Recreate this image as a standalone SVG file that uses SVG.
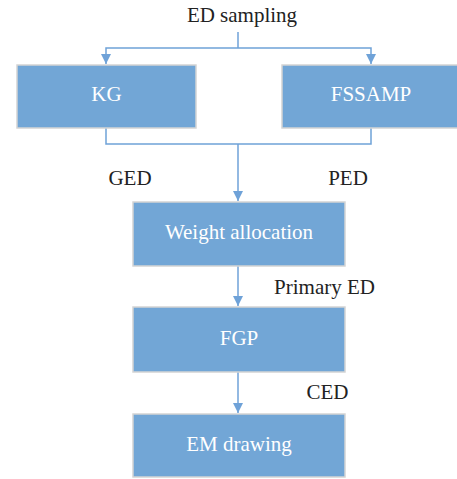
<svg xmlns="http://www.w3.org/2000/svg" width="457" height="479" viewBox="0 0 457 479">
<style>
.box{fill:#72a6d6;stroke:#d4d4d4;stroke-width:1.5}
.t{font-family:"Liberation Serif","Times New Roman",serif;font-size:21px;text-anchor:middle}
.w{fill:#ffffff}
.k{fill:#222222}
.ln{fill:none;stroke:#6fa2d8;stroke-width:1.5}
</style>
<defs>
<marker id="ah" viewBox="0 0 10 10" refX="10" refY="5" markerWidth="10" markerHeight="10" markerUnits="userSpaceOnUse" orient="auto">
<path d="M0,0 L10,5 L0,10 z" fill="#6fa2d8"/>
</marker>
</defs>
<text class="t k" x="242" y="22">ED sampling</text>
<g id="connectors">
<path class="ln" d="M238,32 V48"/>
<path class="ln" d="M238,48 H106 V64" marker-end="url(#ah)"/>
<path class="ln" d="M238,48 H371 V64" marker-end="url(#ah)"/>
<path class="ln" d="M106,128 V144 H371 V128"/>
<path class="ln" d="M238,144 V201" marker-end="url(#ah)"/>
<path class="ln" d="M238,266 V306" marker-end="url(#ah)"/>
<path class="ln" d="M238,372 V413" marker-end="url(#ah)"/>
</g>
<g id="kg"><rect class="box" x="17" y="65" width="179" height="63"/><text class="t w" x="106.5" y="101">KG</text></g>
<g id="fssamp"><rect class="box" x="282" y="65" width="179" height="63"/><text class="t w" x="371" y="101">FSSAMP</text></g>
<g id="weight"><rect class="box" x="133" y="202" width="212" height="64"/><text class="t w" x="239" y="239">Weight allocation</text></g>
<g id="fgp"><rect class="box" x="133" y="307" width="212" height="65"/><text class="t w" x="239" y="345">FGP</text></g>
<g id="em"><rect class="box" x="133" y="414" width="212" height="63"/><text class="t w" x="239" y="451">EM drawing</text></g>
<text class="t k" x="130" y="185">GED</text>
<text class="t k" x="348" y="185">PED</text>
<text class="t k" x="324.5" y="294">Primary ED</text>
<text class="t k" x="327.5" y="399">CED</text>
</svg>
